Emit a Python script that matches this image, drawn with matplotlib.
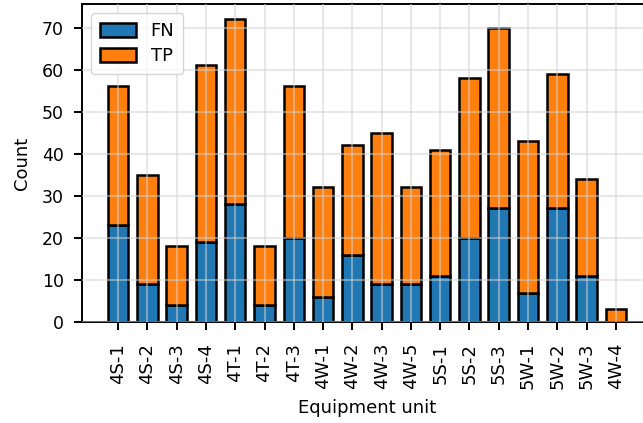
import numpy as np
import matplotlib.pyplot as plt

units = ['4S-1', '4S-2', '4S-3', '4S-4', '4T-1', '4T-2', '4T-3', '4W-1', '4W-2',
         '4W-3', '4W-5', '5S-1', '5S-2', '5S-3', '5W-1', '5W-2', '5W-3', '4W-4']
fn = [23, 9, 4, 19, 28, 4, 20, 6, 16, 9, 9, 11, 20, 27, 7, 27, 11, 0]
total = [56, 35, 18, 61, 72, 18, 56, 32, 42, 45, 32, 41, 58, 70, 43, 59, 34, 3]
tp = [t - f for t, f in zip(total, fn)]

plt.rcParams['font.size'] = 13
plt.rcParams['axes.linewidth'] = 1.4

fig = plt.figure(figsize=(6.43, 4.23), dpi=100)
ax = fig.add_axes([0.1275, 0.2388, 0.8865, 0.7518])

x = np.arange(len(units))
ax.bar(x, fn, width=0.7, color='#1f77b4', edgecolor='black', linewidth=1.8, label='FN')
ax.bar(x, tp, width=0.7, bottom=fn, color='#ff7f0e', edgecolor='black', linewidth=1.8, label='TP')

ax.set_xticks(x)
ax.set_xticklabels(units, rotation=90)
ax.tick_params(length=6, width=1.4, pad=7)
ax.tick_params(axis='x', pad=9)
ax.tick_params(axis='y', labelsize=12.5)
ax.set_xlabel('Equipment unit', labelpad=7)
ax.set_ylabel('Count', labelpad=8)
ax.set_axisbelow(False)
ax.grid(True, color='lightgray', alpha=0.5, linewidth=1.5)
ax.legend(loc='upper left', borderpad=0.5, handleheight=0.8, labelspacing=0.4)

fig.savefig('out.png', dpi=100)
